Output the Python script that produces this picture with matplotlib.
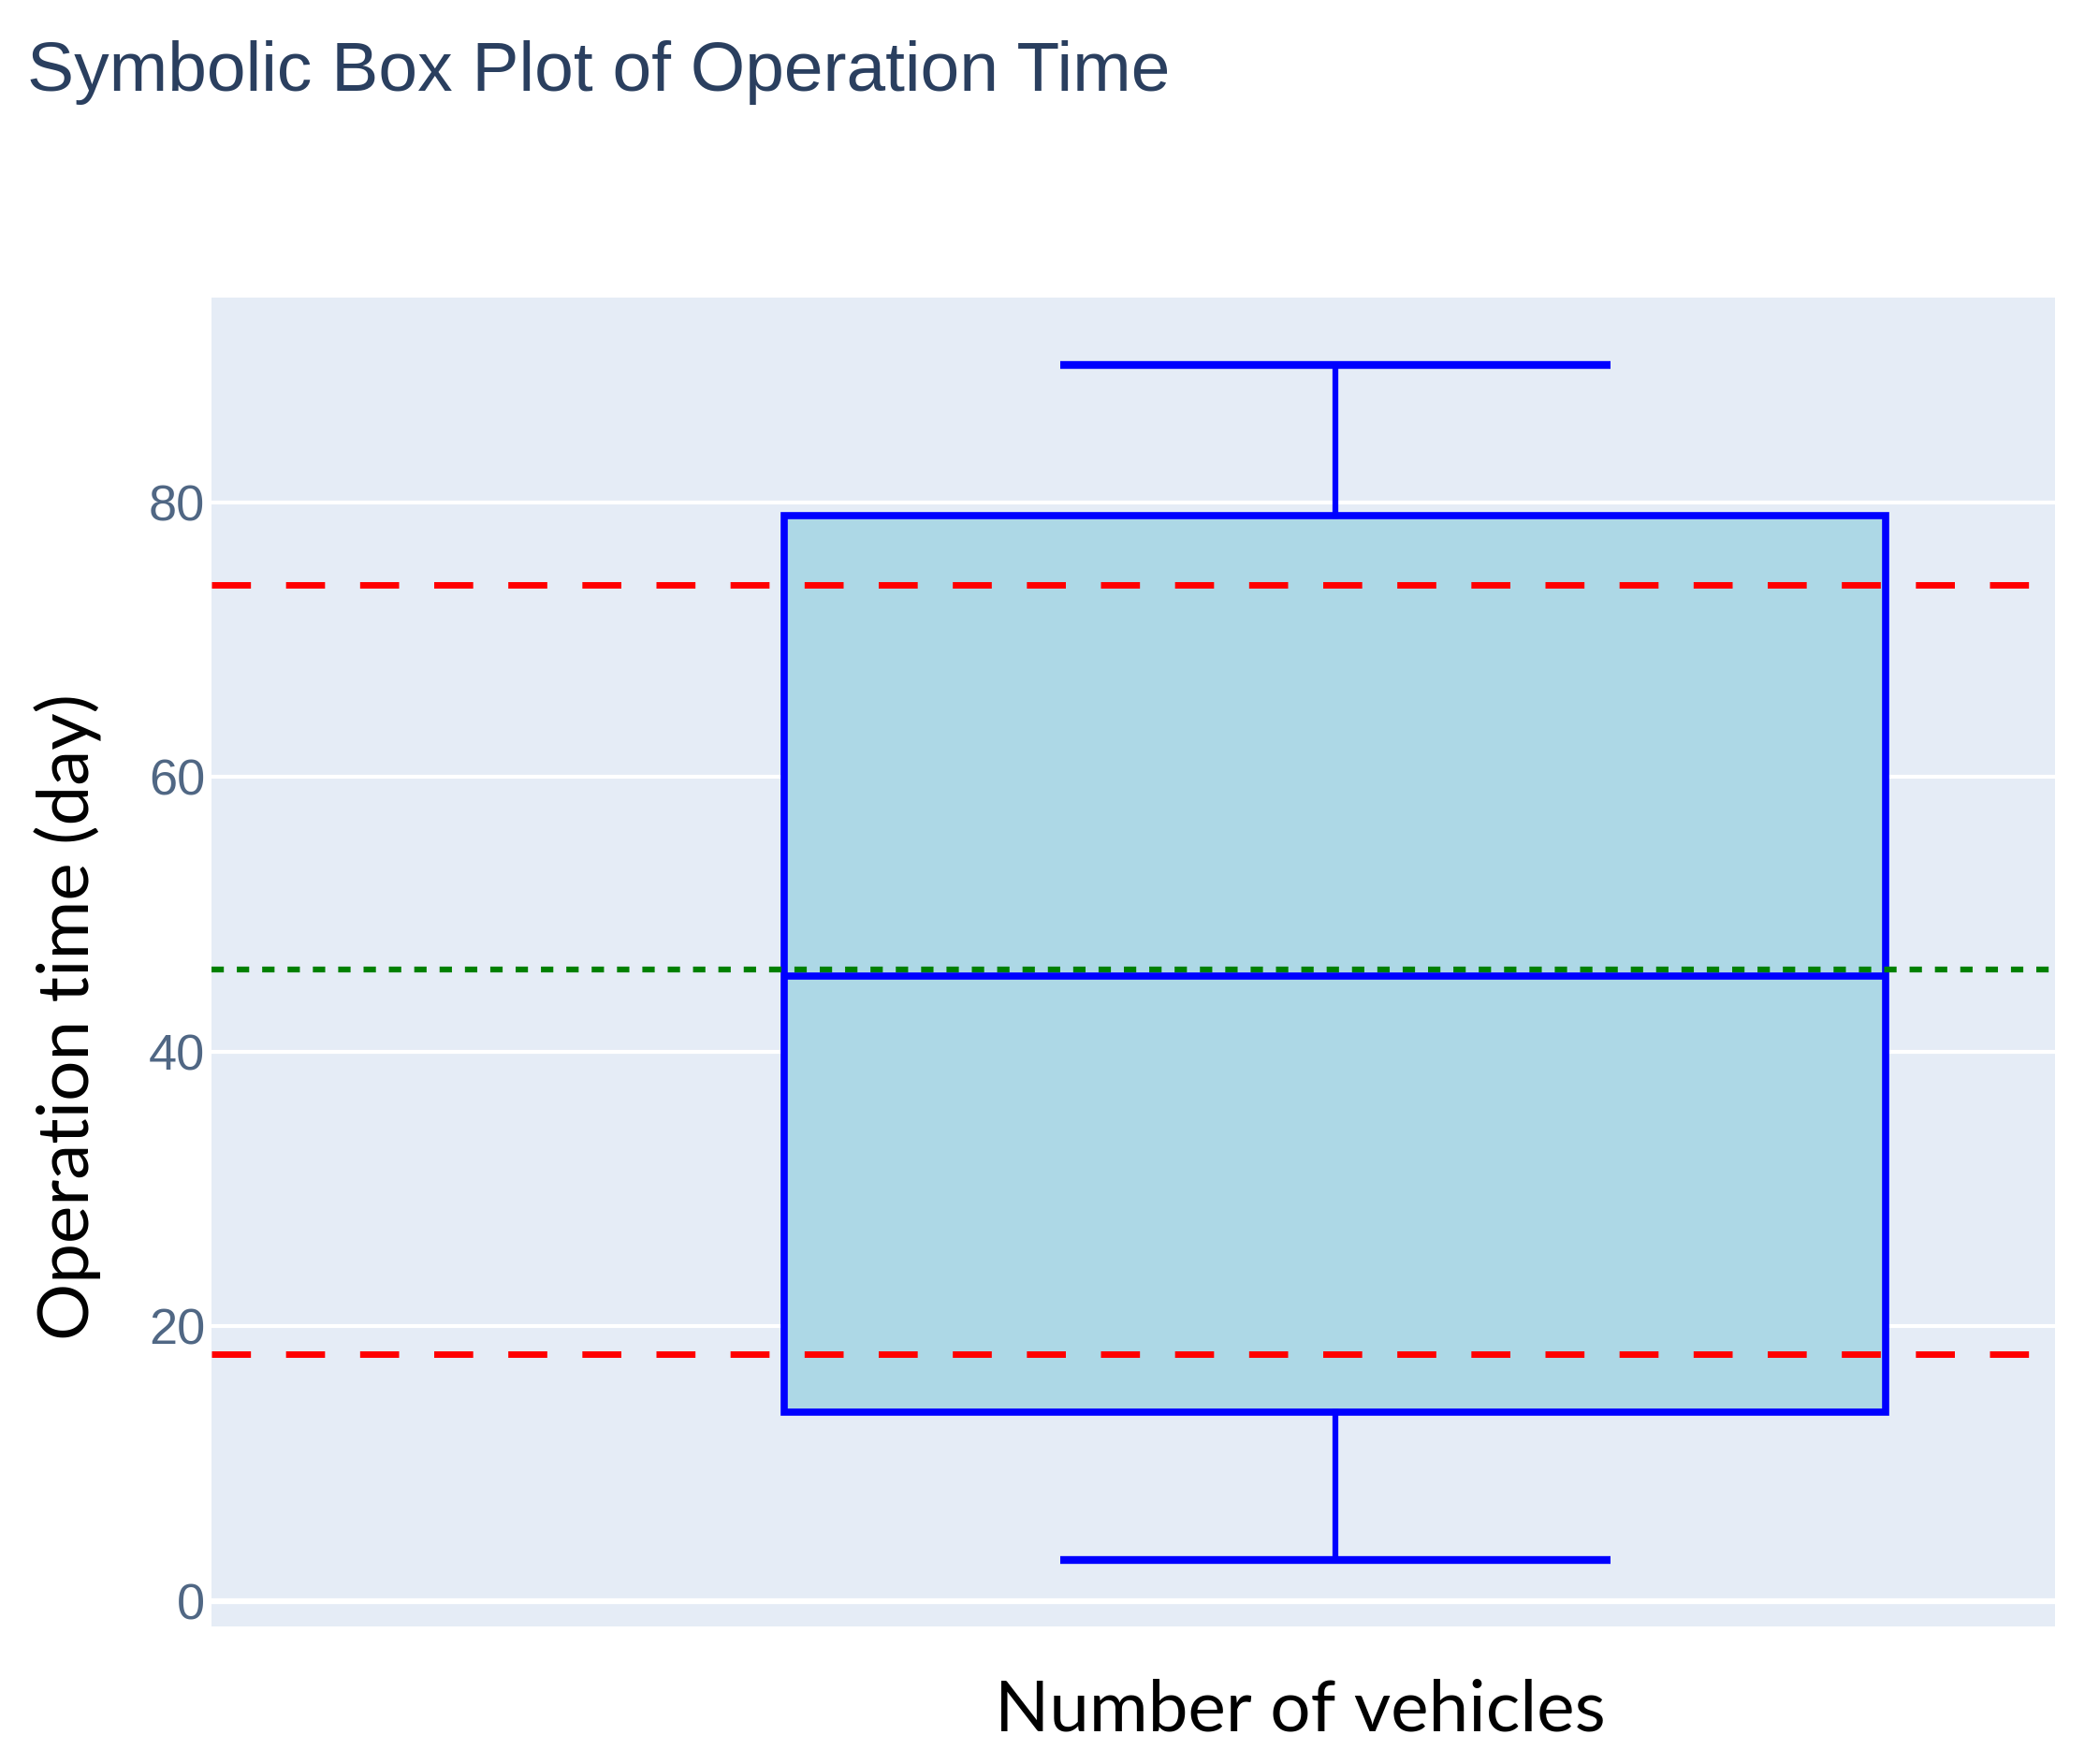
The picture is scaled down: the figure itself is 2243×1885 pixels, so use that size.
import matplotlib
matplotlib.use('Agg')
import matplotlib.pyplot as plt

# valores
titulo = 'Symbolic Box Plot of Operation Time'
etiqueta_x = 'Number of vehicles'
etiqueta_y = 'Operation time (day)'
whisker_bajo = 3
q1 = 13.75
mediana = 45.5
q3 = 79
whisker_alto = 90
lineas_rojas = [18, 74]
linea_verde = 46
yticks = [0, 20, 40, 60, 80]

plt.rcParams['lines.scale_dashes'] = False

fig = plt.figure(figsize=(22.43, 18.85), dpi=100)
ax = fig.add_axes([226/2243, 1 - 1738/1885, 1970/2243, 1420/1885])
ax.set_facecolor('#E5ECF6')

stats = [dict(med=mediana, q1=q1, q3=q3, whislo=whisker_bajo, whishi=whisker_alto, fliers=[])]
bp = ax.bxp(stats, positions=[0], widths=0.6, capwidths=0.3, patch_artist=True,
            showfliers=False,
            boxprops=dict(facecolor='#ADD8E6', edgecolor='#0000FF', linewidth=5.5),
            medianprops=dict(color='#0000FF', linewidth=5.5, solid_capstyle='butt'),
            whiskerprops=dict(color='#0000FF', linewidth=4.5),
            capprops=dict(color='#0000FF', linewidth=6, solid_capstyle='butt'), zorder=3)

for y in lineas_rojas:
    ax.axhline(y, color='red', linewidth=5, dashes=(30, 27), zorder=4)
ax.axhline(linea_verde, color='green', linewidth=4.5, dashes=(9.5, 10), zorder=4)

ax.set_xlim(-0.612, 0.392)
ax.set_ylim(-1.84, 94.9)
ax.set_yticks(yticks)
ax.set_xticks([])
ax.grid(axis='y', color='white', linewidth=3)
ax.axhline(0, color='white', linewidth=4.5, zorder=1)
ax.set_axisbelow(True)
for s in ax.spines.values():
    s.set_visible(False)
ax.tick_params(axis='y', length=0, pad=5, labelsize=39, labelcolor='#506784')
for lab in ax.get_yticklabels():
    lab.set_family('Liberation Sans')

fig.text(29/2243, 1 - 97/1885, titulo, fontsize=54, color='#2a3f5f',
         family='Liberation Sans', ha='left', va='baseline')
fig.text(1389/2243, 1 - 1828/1885, etiqueta_x, fontsize=55, color='black',
         family='Lato', ha='center', va='center')
fig.text(73/2243, 1 - 1086/1885, etiqueta_y, fontsize=55, color='black',
         family='Lato', ha='center', va='center', rotation=90)

fig.savefig('out.png', dpi=100)
